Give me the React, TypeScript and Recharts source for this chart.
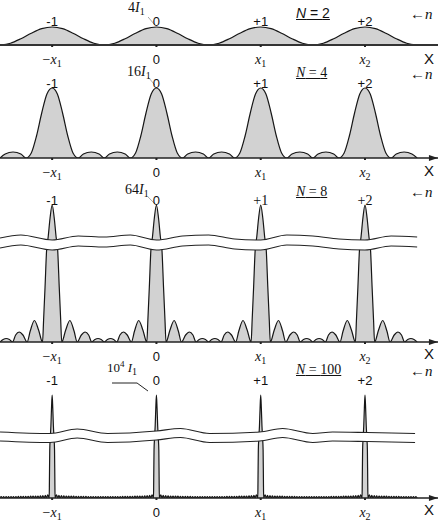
import React from "react";
import {
  Area,
  ComposedChart,
  ReferenceDot,
  ReferenceLine,
  XAxis,
  YAxis,
} from "recharts";

// peak positions (in grating periods) and their labels
const CENTERS = [-1, 0, 1, 2];
const ORDERS = ["-1", "0", "+1", "+2"];
const TICK_TEXT: [string, string][] = [
  ["−x", "1"],
  ["0", ""],
  ["x", "1"],
  ["x", "2"],
];

// half profile of one period: [offset from the main peak, height]
const N2_HALF = [
  [0, 18], [0.1, 16.3], [0.2, 11.8], [0.3, 6.3], [0.4, 1.8], [0.5, 0],
];
const N4_HALF = [
  [0, 70], [0.05, 64], [0.1, 45], [0.15, 22], [0.2, 5], [0.25, 0],
  [0.3, 4], [0.375, 6], [0.45, 4], [0.5, 0],
];
const N8_HALF = [
  [0, 137], [0.02, 124], [0.038, 105], [0.053, 92], [0.068, 55], [0.082, 22],
  [0.092, 0], [0.13, 12], [0.17, 21.5], [0.21, 11], [0.24, 0], [0.28, 7],
  [0.316, 10], [0.35, 7], [0.38, 0], [0.41, 2.5], [0.44, 3.5], [0.47, 2.5],
  [0.5, 0],
];
const N100_HALF = [
  [0, 103], [0.006, 90], [0.012, 72], [0.018, 60], [0.023, 48], [0.026, 18],
  [0.028, 0], [0.042, 3.2], [0.054, 0], [0.065, 2.6], [0.077, 0], [0.089, 2.3],
  [0.101, 0], [0.112, 2.1], [0.124, 0], [0.136, 2], [0.148, 0], [0.159, 1.9],
  [0.171, 0], [0.183, 1.8], [0.195, 0], [0.206, 1.8], [0.218, 0], [0.23, 1.7],
  [0.242, 0], [0.253, 1.7], [0.265, 0], [0.277, 1.6], [0.289, 0], [0.3, 1.6],
  [0.312, 0], [0.324, 1.6], [0.336, 0], [0.347, 1.5], [0.359, 0], [0.371, 1.5],
  [0.383, 0], [0.394, 1.5], [0.406, 0], [0.418, 1.5], [0.43, 0], [0.441, 1.5],
  [0.453, 0], [0.465, 1.5], [0.477, 0], [0.488, 1.5], [0.5, 0],
];

// upper edge of the axis break (wavy band) and its width
const N8_BREAK = [
  [-1.5, 104], [-1.3, 107], [-1, 102], [-0.75, 106], [-0.5, 105], [-0.25, 107],
  [0, 102], [0.25, 106], [0.5, 107], [0.75, 103], [1, 102], [1.25, 107],
  [1.5, 106], [1.75, 103], [2, 102], [2.25, 106], [2.5, 105],
];
const N100_BREAK = [
  [-1.5, 66], [-1.02, 64.5], [-0.76, 69], [-0.47, 64.5], [0, 67], [0.23, 69.5],
  [0.51, 64.5], [0.99, 66], [1.21, 69.5], [1.5, 64.5], [1.69, 66], [2.02, 65.5],
  [2.48, 64.5],
];

const serif = '"Liberation Serif", "Times New Roman", serif';
const sans = '"Liberation Sans", Arial, sans-serif';
const TOP_ROOM = 22;

function tile(half: number[][]) {
  const full = [
    ...half.slice(1).map(([u, v]) => [-u, v]).reverse(),
    ...half,
  ];
  const out: { x: number; y: number }[] = [];
  CENTERS.forEach((c, i) => {
    full.forEach(([u, v], j) => {
      if (i > 0 && j === 0) return;
      out.push({ x: c + u, y: v });
    });
  });
  return out;
}

function band(edge: number[][], gap: number) {
  return edge.map(([x, v]) => ({ x, band: [v - gap, v] }));
}

const AxisTick = (props: any) => {
  const { x, y, payload } = props;
  const [main, sub] = TICK_TEXT[CENTERS.indexOf(payload.value)] || ["", ""];
  if (main === "0") {
    return (
      <g>
        <rect x={x - 1} y={y} width={2} height={2} fill="#222" />
        <text x={x} y={y + 19} textAnchor="middle" fontFamily={sans} fontSize={13} fill="#111">
          0
        </text>
      </g>
    );
  }
  const minus = main.startsWith("−");
  return (
    <g>
      <rect x={x - 1} y={y} width={2} height={2} fill="#222" />
      <text x={x} y={y + 19} textAnchor="middle" fontFamily={serif} fontSize={14} fill="#111">
        {minus && <tspan>−</tspan>}
        <tspan fontStyle="italic">x</tspan>
        <tspan fontSize={10} dy={3}>{sub}</tspan>
      </text>
    </g>
  );
};

interface PanelProps {
  baseline: number;
  plotH: number;
  half: number[][];
  edge?: number[][];
  gap?: number;
  labelDy: number;
  serifOrders?: boolean;
  thickAxis?: boolean;
  leader: { x: number; y: number }[];
  leaderColor: string;
}

const Panel = ({
  baseline,
  plotH,
  half,
  edge,
  gap,
  labelDy,
  serifOrders,
  thickAxis,
  leader,
  leaderColor,
}: PanelProps) => {
  const data = tile(half);
  const peak = half[0][1];
  return (
    <div style={{ position: "absolute", left: 0, top: baseline - plotH - TOP_ROOM }}>
      <ComposedChart
        width={438}
        height={plotH + 28 + TOP_ROOM}
        data={data}
        margin={{ top: TOP_ROOM, right: 0, bottom: 0, left: 0 }}
      >
        <XAxis
          dataKey="x"
          type="number"
          domain={[-1.5, 2.7]}
          ticks={CENTERS}
          interval={0}
          allowDataOverflow
          height={28}
          tickSize={0}
          tickMargin={0}
          tickLine={false}
          tick={(p: any) => <AxisTick {...p} />}
          axisLine={{ stroke: thickAxis ? "#333" : "#222", strokeWidth: thickAxis ? 2 : 1.3 }}
        />
        <YAxis hide type="number" domain={[0, plotH]} allowDataOverflow />
        <Area
          dataKey="y"
          type="monotone"
          fill="#d2d2d2"
          fillOpacity={1}
          stroke="#161616"
          strokeWidth={1.2}
          baseValue={0}
          isAnimationActive={false}
        />
        {edge && (
          <Area
            data={band(edge, gap || 10)}
            dataKey="band"
            type="monotone"
            fill="#fff"
            fillOpacity={1}
            stroke="#222"
            strokeWidth={1.1}
            isAnimationActive={false}
          />
        )}
        {CENTERS.map((c, i) => (
          <ReferenceDot
            key={c}
            x={c}
            y={peak}
            r={0}
            ifOverflow="visible"
            shape={(p: any) => (
              <text
                x={p.cx}
                y={p.cy + labelDy}
                textAnchor="middle"
                fontFamily={serifOrders && i > 1 ? serif : sans}
                fontSize={serifOrders && i > 1 ? 14 : 13}
                fill="#111"
              >
                {ORDERS[i]}
              </text>
            )}
          />
        ))}
        {leader.slice(1).map((pt, i) => (
          <ReferenceLine
            key={i}
            segment={[leader[i], pt]}
            stroke={leaderColor}
            strokeWidth={1}
            ifOverflow="visible"
          />
        ))}
        {!thickAxis && (
          <ReferenceDot
            x={2.69}
            y={0}
            r={0}
            ifOverflow="visible"
            shape={(p: any) => (
              <polygon
                points={`${p.cx + 1},${p.cy} ${p.cx - 8},${p.cy - 3} ${p.cx - 8},${p.cy + 3}`}
                fill="#222"
              />
            )}
          />
        )}
      </ComposedChart>
    </div>
  );
};

const Txt = ({ x, y, children, style }: any) => (
  <div
    style={{
      position: "absolute",
      left: x,
      top: y - 6,
      lineHeight: "12px",
      whiteSpace: "nowrap",
      color: "#111",
      ...style,
    }}
  >
    {children}
  </div>
);

const Sub = ({ children }: any) => (
  <span style={{ fontSize: 10, position: "relative", top: 3 }}>{children}</span>
);

const Arrow = ({ y }: { y: number }) => (
  <Txt x={410} y={y} style={{ fontFamily: serif, fontSize: 15 }}>
    ←<i>n</i>
  </Txt>
);

const XLabel = ({ y }: { y: number }) => (
  <Txt x={424} y={y} style={{ fontFamily: sans, fontSize: 15 }}>
    X
  </Txt>
);

const NLabel = ({ y, n, sansFont }: { y: number; n: string; sansFont?: boolean }) => (
  <Txt
    x={296}
    y={y}
    style={{
      fontFamily: sansFont ? sans : serif,
      fontSize: 14,
      textDecoration: "underline",
    }}
  >
    <i>N</i> = {n}
  </Txt>
);

export default function App() {
  return (
    <div
      style={{
        position: "absolute",
        left: 0,
        top: 0,
        width: 438,
        height: 522,
        background: "#fff",
        overflow: "hidden",
      }}
    >
      <Panel
        baseline={45}
        plotH={40}
        half={N2_HALF}
        labelDy={-1}
        thickAxis
        leader={[
          { x: -0.08, y: 28 },
          { x: -0.015, y: 20 },
        ]}
        leaderColor="#aaa"
      />
      <Panel
        baseline={158}
        plotH={90}
        half={N4_HALF}
        labelDy={0}
        leader={[
          { x: -0.08, y: 81 },
          { x: -0.015, y: 73 },
        ]}
        leaderColor="#aaa"
      />
      <Panel
        baseline={342}
        plotH={150}
        half={N8_HALF}
        edge={N8_BREAK}
        gap={10}
        labelDy={0}
        serifOrders
        leader={[
          { x: -0.08, y: 145 },
          { x: -0.013, y: 138 },
        ]}
        leaderColor="#aaa"
      />
      <Panel
        baseline={498}
        plotH={120}
        half={N100_HALF}
        edge={N100_BREAK}
        gap={9}
        labelDy={-10}
        leader={[
          { x: -0.426, y: 115 },
          { x: -0.186, y: 115 },
          { x: -0.081, y: 107 },
        ]}
        leaderColor="#222"
      />

      <Txt x={128} y={8} style={{ fontFamily: serif, fontSize: 14 }}>
        4<i>I</i>
        <Sub>1</Sub>
      </Txt>
      <NLabel y={13} n="2" sansFont />
      <Arrow y={14} />
      <XLabel y={59} />

      <Txt x={127} y={72} style={{ fontFamily: serif, fontSize: 14 }}>
        16<i>I</i>
        <Sub>1</Sub>
      </Txt>
      <NLabel y={73} n="4" />
      <Arrow y={74} />
      <XLabel y={171} />

      <Txt x={125} y={190} style={{ fontFamily: serif, fontSize: 14 }}>
        64<i>I</i>
        <Sub>1</Sub>
      </Txt>
      <NLabel y={192} n="8" />
      <Arrow y={192} />
      <XLabel y={354} />

      <Txt x={107} y={368} style={{ fontFamily: serif, fontSize: 13 }}>
        10
        <span style={{ fontSize: 9, position: "relative", top: -5 }}>4</span>{" "}
        <i>I</i>
        <Sub>1</Sub>
      </Txt>
      <NLabel y={370} n="100" />
      <Arrow y={371} />
      <XLabel y={510} />
    </div>
  );
}
